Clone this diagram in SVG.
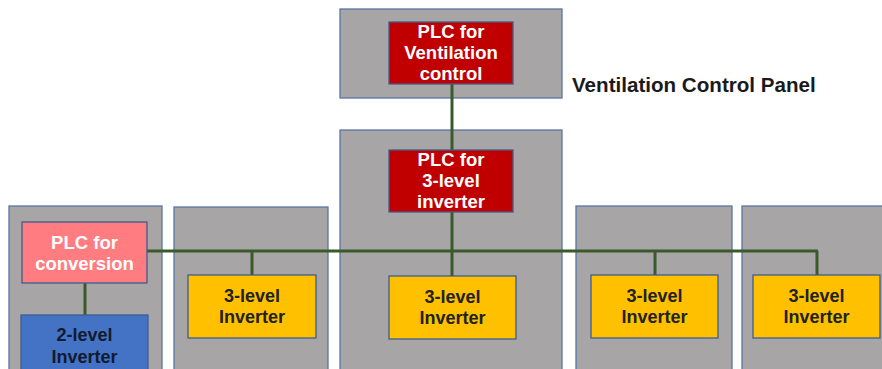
<svg xmlns="http://www.w3.org/2000/svg" width="882" height="369" viewBox="0 0 882 369">
  <style>
    .panel { fill: #A8A5A6; stroke: #5A76A3; stroke-width: 1.3; }
    .box { stroke: #3E5C8E; stroke-width: 1.3; }
    .plc { fill: #C00000; }
    .plc-conv { fill: #FF7C80; }
    .inv2 { fill: #4472C4; }
    .inv3 { fill: #FFC000; }
    .wire { stroke: #3B5A2B; stroke-width: 3; fill: none; }
    text { font-family: "Liberation Sans", Arial, sans-serif; font-weight: bold; font-size: 18px; text-anchor: middle; }
    .light { fill: #FFFFFF; font-size: 18.5px; }
    .dark { fill: #222222; }
    .navy { fill: #111B30; }
    .title { font-size: 20.6px; text-anchor: start; fill: #1A1A1A; }
  </style>

  <!-- cabinet panels -->
  <g id="panels">
    <rect id="panel-ventilation" class="panel" x="340" y="9" width="222" height="89"/>
    <rect id="panel-main" class="panel" x="340" y="130" width="222" height="245"/>
    <rect id="panel-conv" class="panel" x="9" y="206" width="153" height="170"/>
    <rect id="panel-a" class="panel" x="174" y="207" width="154" height="170"/>
    <rect id="panel-b" class="panel" x="576" y="206" width="156" height="170"/>
    <rect id="panel-c" class="panel" x="742" y="206" width="150" height="170"/>
  </g>

  <!-- communication wiring -->
  <g id="connectors">
    <line class="wire" x1="452" y1="84" x2="452" y2="150"/>
    <line class="wire" x1="452" y1="212" x2="452" y2="276"/>
    <line class="wire" x1="147" y1="251" x2="818" y2="251"/>
    <line class="wire" x1="252" y1="251" x2="252" y2="275"/>
    <line class="wire" x1="655" y1="251" x2="655" y2="275"/>
    <line class="wire" x1="817" y1="251" x2="817" y2="275"/>
    <line class="wire" x1="85" y1="283" x2="85" y2="315"/>
  </g>

  <text class="title" x="572" y="92">Ventilation Control Panel</text>

  <g id="plc-ventilation">
    <rect class="box plc" x="389" y="22" width="124" height="62"/>
    <text class="light" x="451" y="38">PLC for</text>
    <text class="light" x="451" y="59">Ventilation</text>
    <text class="light" x="451" y="80">control</text>
  </g>

  <g id="plc-3level">
    <rect class="box plc" x="389" y="150" width="124" height="62"/>
    <text class="light" x="451" y="166">PLC for</text>
    <text class="light" x="451" y="187">3-level</text>
    <text class="light" x="451" y="208">inverter</text>
  </g>

  <g id="plc-conversion">
    <rect class="box plc-conv" x="22" y="222" width="125" height="61"/>
    <text class="light" x="84.5" y="249">PLC for</text>
    <text class="light" x="84.5" y="270">conversion</text>
  </g>

  <g id="inverter-2level">
    <rect class="box inv2" x="21" y="315" width="127" height="60"/>
    <text class="navy" x="84.5" y="341">2-level</text>
    <text class="navy" x="84.5" y="363">Inverter</text>
  </g>

  <g id="inverter-a">
    <rect class="box inv3" x="188" y="275" width="128" height="63"/>
    <text class="dark" x="252" y="302">3-level</text>
    <text class="dark" x="252" y="323">Inverter</text>
  </g>

  <g id="inverter-main">
    <rect class="box inv3" x="389" y="276" width="127" height="63"/>
    <text class="dark" x="452.5" y="303">3-level</text>
    <text class="dark" x="452.5" y="324">Inverter</text>
  </g>

  <g id="inverter-b">
    <rect class="box inv3" x="591" y="275" width="127" height="63"/>
    <text class="dark" x="654.5" y="302">3-level</text>
    <text class="dark" x="654.5" y="323">Inverter</text>
  </g>

  <g id="inverter-c">
    <rect class="box inv3" x="753" y="275" width="127" height="63"/>
    <text class="dark" x="816.5" y="302">3-level</text>
    <text class="dark" x="816.5" y="323">Inverter</text>
  </g>
</svg>
